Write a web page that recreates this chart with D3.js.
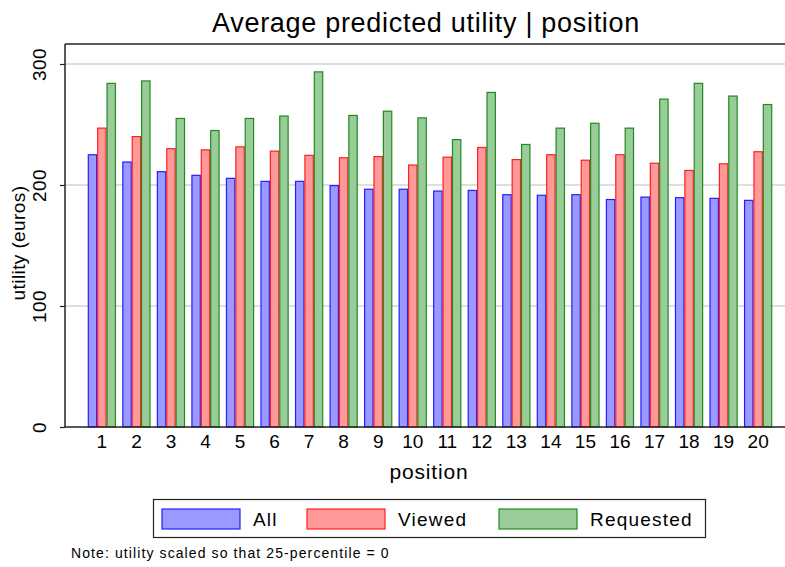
<!DOCTYPE html>
<html>
<head>
<meta charset="utf-8">
<script src="https://cdn.jsdelivr.net/npm/d3@7"></script>
<style>
  body { margin:0; background:#fff; }
  svg { display:block; font-family:"Liberation Sans", Arial, sans-serif; }
</style>
</head>
<body>
<svg class="chart" width="785" height="567"></svg>
<script>
var positions = ["1","2","3","4","5","6","7","8","9","10","11","12","13","14","15","16","17","18","19","20"];
var allVals = [225, 219, 211, 208, 205.5, 203, 203, 199.5, 196.5, 196.5, 195, 195.5, 192, 191.5, 192, 188, 190, 189.5, 189, 187.3];
var viewedVals = [247, 240, 230, 229, 231.5, 228, 224.5, 222.5, 223.5, 216.5, 223, 231, 221, 225, 220.5, 225, 218, 212, 217.5, 227.5];
var requestedVals = [284, 286, 255, 245, 255, 257, 293.5, 257.5, 261, 255.5, 237.5, 276.5, 233.5, 247, 251, 247, 271, 284, 273.5, 266.5];
var seriesNames = ["All", "Viewed", "Requested"];
var yTicks = [0, 100, 200, 300];

var fills = {All:"#9999ff", Viewed:"#ff9999", Requested:"#99cc99"};
var strokes = {All:"#1f1fff", Viewed:"#ff1f1f", Requested:"#1f8c1f"};

var margins = {top:44, left:65, right:-10, bottom:140};
var width = 785, height = 567;

var svg = d3.select('.chart');
svg.append('rect').attr('width', width).attr('height', height).attr('fill', '#fff');

// one row per position
var rows = positions.map(function(p, i){
  return {pos:p, All:allVals[i], Viewed:viewedVals[i], Requested:requestedVals[i]};
});

var xScale = d3.scaleBand()
  .domain(positions)
  .range([margins.left, width - margins.right])
  .paddingInner(0.185)
  .paddingOuter(0.66);

var inner = d3.scaleBand()
  .domain(seriesNames)
  .range([0, xScale.bandwidth()]);

var yScale = d3.scaleLinear()
  .domain([0, 300])
  .range([height - margins.bottom, 64]);

// gridlines
svg.append('g').selectAll('line')
  .data(yTicks.filter(function(d){ return d > 0; }))
  .enter().append('line')
  .attr('x1', margins.left).attr('x2', width)
  .attr('y1', function(d){ return yScale(d); })
  .attr('y2', function(d){ return yScale(d); })
  .attr('stroke', '#dedede')
  .attr('stroke-width', 2);

// frame top
svg.append('line')
  .attr('x1', margins.left).attr('x2', width)
  .attr('y1', margins.top).attr('y2', margins.top)
  .attr('stroke', '#222').attr('stroke-width', 1.5);

// bars
var groups = svg.append('g').selectAll('g')
  .data(rows)
  .enter().append('g')
  .attr('transform', function(d){ return 'translate(' + xScale(d.pos) + ',0)'; });

groups.selectAll('rect')
  .data(function(d){ return seriesNames.map(function(k){ return {key:k, value:d[k]}; }); })
  .enter().append('rect')
  .attr('x', function(d){ return inner(d.key) + 0.5; })
  .attr('width', inner.bandwidth() - 1)
  .attr('y', function(d){ return yScale(d.value); })
  .attr('height', function(d){ return yScale(0) - yScale(d.value); })
  .attr('fill', function(d){ return fills[d.key]; })
  .attr('stroke', function(d){ return strokes[d.key]; })
  .attr('stroke-width', 1.2);

// y axis
var yAxis = svg.append('g')
  .attr('transform', 'translate(' + margins.left + ',0)')
  .call(d3.axisLeft(yScale).tickValues(yTicks).tickSize(5).tickSizeOuter(0));
yAxis.select('.domain').attr('stroke', '#222').attr('stroke-width', 1.5)
  .attr('d', 'M0,' + margins.top + 'V' + yScale(0));
yAxis.selectAll('.tick line').attr('stroke', '#222').attr('stroke-width', 1.2);
yAxis.selectAll('.tick text')
  .attr('font-size', 19)
  .attr('letter-spacing', 0.5)
  .attr('fill', '#000')
  .attr('text-anchor', 'middle')
  .attr('x', null).attr('dy', null)
  .attr('transform', 'translate(-19,0) rotate(-90)');

// x axis
var xAxis = svg.append('g')
  .attr('transform', 'translate(0,' + yScale(0) + ')')
  .call(d3.axisBottom(xScale).tickSize(0).tickSizeOuter(0));
xAxis.select('.domain').attr('stroke', '#222').attr('stroke-width', 1.5)
  .attr('d', 'M' + margins.left + ',0H' + width);
xAxis.selectAll('.tick text')
  .attr('font-size', 19)
  .attr('fill', '#000')
  .attr('y', 8);

// titles
svg.append('text')
  .attr('x', 426).attr('y', 32)
  .attr('text-anchor', 'middle')
  .attr('font-size', 27)
  .attr('letter-spacing', 0.7)
  .text('Average predicted utility | position');

svg.append('text')
  .attr('transform', 'translate(25,243) rotate(-90)')
  .attr('text-anchor', 'middle')
  .attr('font-size', 19)
  .attr('letter-spacing', 0.4)
  .text('utility (euros)');

svg.append('text')
  .attr('x', 429).attr('y', 479)
  .attr('text-anchor', 'middle')
  .attr('font-size', 21)
  .attr('letter-spacing', 0.8)
  .text('position');

// legend
var legend = svg.append('g');
legend.append('rect')
  .attr('x', 153.5).attr('y', 499.5).attr('width', 552).attr('height', 38)
  .attr('fill', '#fff').attr('stroke', '#222').attr('stroke-width', 1.2);

var legX = [162, 307, 499];
var items = legend.selectAll('g.item')
  .data(seriesNames)
  .enter().append('g')
  .attr('class', 'item')
  .attr('transform', function(d, i){ return 'translate(' + legX[i] + ',509)'; });
items.append('rect')
  .attr('width', 78).attr('height', 20)
  .attr('fill', function(d){ return fills[d]; })
  .attr('stroke', function(d){ return strokes[d]; })
  .attr('stroke-width', 1.2);
items.append('text')
  .attr('x', 91).attr('y', 17)
  .attr('font-size', 19)
  .attr('letter-spacing', 1.2)
  .text(function(d){ return d; });

svg.append('text')
  .attr('x', 71).attr('y', 558)
  .attr('font-size', 14)
  .attr('letter-spacing', 1.1)
  .text('Note: utility scaled so that 25-percentile = 0');
</script>
</body>
</html>
